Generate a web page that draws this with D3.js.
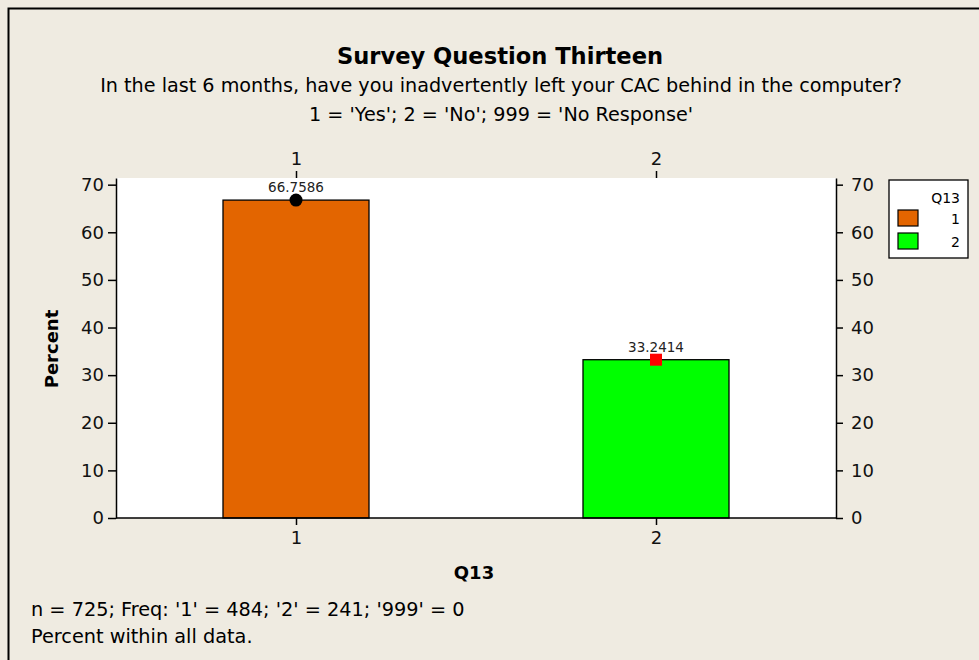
<!DOCTYPE html>
<html>
<head>
<meta charset="utf-8">
<script src="https://cdn.jsdelivr.net/npm/d3@7"></script>
<style>
  body { margin:0; background:#efebe1; }
  svg { display:block; font-family:"DejaVu Sans",sans-serif; }
</style>
</head>
<body>
<svg width="979" height="660"></svg>
<script>
// data
const categories = ["1","2"];
const percents = [66.7586, 33.2414];
const barColors = ["#e36500","#00ff00"];
const yTicks = [0,10,20,30,40,50,60,70];
const titleLines = ["In the last 6 months, have you inadvertently left your CAC behind in the computer?",
                    "1 = 'Yes'; 2 = 'No'; 999 = 'No Response'"];
const footLines = ["n = 725; Freq: '1' = 484; '2' = 241; '999' = 0", "Percent within all data."];

const svg = d3.select("svg");
const margin = {top:178, right:143, bottom:142, left:116};
const width = 979 - margin.left - margin.right,
      height = 660 - margin.top - margin.bottom;

// frame
svg.append("rect").attr("width",979).attr("height",660).attr("fill","#efebe1");
svg.append("path").attr("d","M8.5,660 V8.5 H979").attr("fill","none").attr("stroke","#000").attr("stroke-width",2);

// titles
svg.append("text").attr("x",500).attr("y",64).attr("text-anchor","middle")
   .attr("font-size",22.6).attr("font-weight","bold").text("Survey Question Thirteen");
titleLines.forEach((t,i)=>{
  svg.append("text").attr("x",501).attr("y",92+i*29).attr("text-anchor","middle")
     .attr("font-size",19.2).text(t);
});

const g = svg.append("g").attr("transform",`translate(${margin.left},${margin.top})`);

const x = d3.scalePoint().domain(categories).range([0,width]).padding(0.5);
const y = d3.scaleLinear().domain([0,71.4]).range([height,0]);
const bw = 146;

g.append("rect").attr("width",width).attr("height",height).attr("fill","#fff");

g.selectAll(".bar").data(percents).enter().append("rect")
  .attr("x",(d,i)=>x(categories[i])-bw/2)
  .attr("y",d=>y(d))
  .attr("width",bw)
  .attr("height",d=>height-y(d))
  .attr("fill",(d,i)=>barColors[i])
  .attr("stroke","#000").attr("stroke-width",1.3);

// markers
g.append("circle").attr("cx",x(categories[0])).attr("cy",y(percents[0])).attr("r",6.5).attr("fill","#000");
g.append("rect").attr("x",x(categories[1])-6).attr("y",y(percents[1])-6).attr("width",12).attr("height",12).attr("fill","#ff0000");

// value labels
g.selectAll(".lbl").data(percents).enter().append("text")
  .attr("x",(d,i)=>x(categories[i]))
  .attr("y",d=>y(d)-8)
  .attr("text-anchor","middle").attr("font-size",13.5).attr("fill","#222")
  .text(d=>d);

function styleAxis(sel){
  sel.select(".domain").attr("stroke","#000").attr("stroke-width",1.5);
  sel.selectAll(".tick line").attr("stroke","#000").attr("stroke-width",1.5);
  sel.selectAll("text").attr("font-size",18).attr("fill","#111").attr("font-family","DejaVu Sans");
}

const yl = g.append("g").call(d3.axisLeft(y).tickValues(yTicks).tickSize(8).tickSizeOuter(0).tickPadding(4));
styleAxis(yl);
const yr = g.append("g").attr("transform",`translate(${width},0)`)
  .call(d3.axisRight(y).tickValues(yTicks).tickSize(7).tickSizeOuter(0).tickPadding(8));
styleAxis(yr);
const xb = g.append("g").attr("transform",`translate(0,${height})`)
  .call(d3.axisBottom(x).tickSize(7).tickSizeOuter(0).tickPadding(6));
styleAxis(xb);
xb.select(".domain").attr("d",`M0,0H${width}`);
const xt = g.append("g").call(d3.axisTop(x).tickSize(7).tickSizeOuter(0).tickPadding(6));
styleAxis(xt);
xt.select(".domain").remove();

// axis titles
svg.append("text").attr("transform","translate(58,349) rotate(-90)").attr("text-anchor","middle")
   .attr("font-size",18).attr("font-weight","bold").text("Percent");
svg.append("text").attr("x",474).attr("y",579).attr("text-anchor","middle")
   .attr("font-size",18).attr("font-weight","bold").text("Q13");

// legend
const lg = svg.append("g").attr("transform","translate(889,180)");
lg.append("rect").attr("width",79).attr("height",78).attr("fill","#fff").attr("stroke","#000").attr("stroke-width",1.3);
lg.append("text").attr("x",71).attr("y",23).attr("text-anchor","end").attr("font-size",14).text("Q13");
categories.forEach((c,i)=>{
  lg.append("rect").attr("x",9).attr("y",30+i*23).attr("width",20).attr("height",16)
    .attr("fill",barColors[i]).attr("stroke","#000").attr("stroke-width",1.2);
  lg.append("text").attr("x",71).attr("y",44+i*23).attr("text-anchor","end").attr("font-size",14).text(c);
});

// footnotes
footLines.forEach((t,i)=>{
  svg.append("text").attr("x",31).attr("y",616+i*27).attr("font-size",19.3).text(t);
});
</script>
</body>
</html>
